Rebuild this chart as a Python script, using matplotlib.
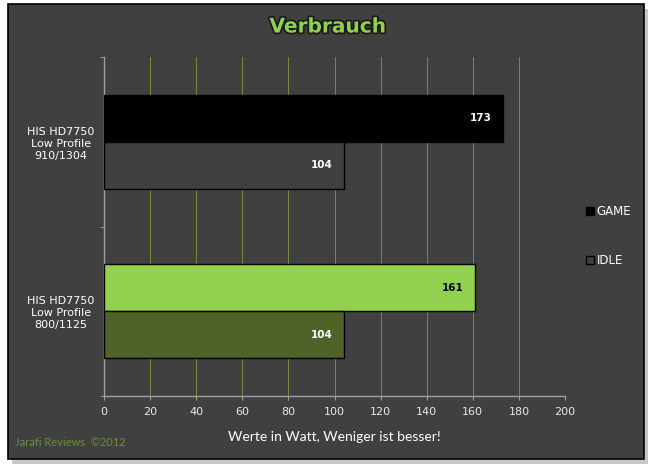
import numpy as np
import matplotlib.pyplot as plt
from matplotlib.patches import Rectangle
from matplotlib.lines import Line2D
import matplotlib.patheffects as pe

# Daten
karten = ['HIS HD7750\nLow Profile\n910/1304', 'HIS HD7750\nLow Profile\n800/1125']
game = [173, 161]
idle = [104, 104]
xticks = list(range(0, 201, 20))

bg = '#404040'
farben_game = ['#000000', '#92d050']
farben_idle = ['#404040', '#4f6228']
text_farbe = ['white', 'black']

fig = plt.figure(figsize=(6.48, 4.70), dpi=100)
fig.patch.set_facecolor('white')

# Hintergrund-Achse fuer Panel und Schatten
bgax = fig.add_axes([0, 0, 1, 1], zorder=-1)
bgax.set_xlim(0, 648)
bgax.set_ylim(470, 0)
bgax.axis('off')
bgax.add_patch(Rectangle((12, 9), 636, 455, facecolor='#c8c8c8', edgecolor='none'))
bgax.add_patch(Rectangle((8, 4), 636, 455, facecolor=bg, edgecolor='black', linewidth=1.2))

ax = fig.add_axes([104/648, 74/470, 461/648, 339/470])
ax.set_facecolor('none')

y = np.arange(len(karten))
h = 0.276
ax.barh(y - h/2, game, height=h, color=farben_game, edgecolor='black', linewidth=1, zorder=3)
ax.barh(y + h/2, idle, height=h, color=farben_idle, edgecolor='black', linewidth=1, zorder=3)

for i in range(len(karten)):
    ax.annotate(str(game[i]), (game[i], y[i] - h/2), xytext=(-8, 0), textcoords='offset points',
                ha='right', va='center', fontsize=7.5, fontweight='bold', color=text_farbe[i], zorder=4)
    ax.annotate(str(idle[i]), (idle[i], y[i] + h/2), xytext=(-8, 0), textcoords='offset points',
                ha='right', va='center', fontsize=7.5, fontweight='bold', color='white', zorder=4)

ax.set_xlim(0, 200)
ax.set_ylim(1.5, -0.5)
ax.set_xticks(xticks)
ax.set_xticklabels([str(v) for v in xticks], fontsize=8, color='#e8e8e8')
ax.set_yticks(y)
ax.set_yticklabels(karten, fontsize=8, color='white', linespacing=1.25, ha='center')
ax.set_yticks([-0.5, 0.5, 1.5], minor=True)
ax.tick_params(axis='y', which='major', length=0, pad=31)
ax.tick_params(axis='y', which='minor', length=3, color='#a0a0a0', direction='out')
ax.tick_params(axis='x', length=3, color='#a0a0a0', direction='out', pad=5)

ax.grid(axis='x', color='#6e8c3c', linewidth=0.75, zorder=0)
ax.set_axisbelow(True)
for s in ['top', 'right']:
    ax.spines[s].set_visible(False)
for s in ['left', 'bottom']:
    ax.spines[s].set_color('#a0a0a0')
    ax.spines[s].set_linewidth(1)

ax.set_xlabel('Werte in Watt, Weniger ist besser!', fontsize=10, color='white', family='Lato', labelpad=10)

fig.text(328/648, 1 - 27/470, 'Verbrauch', ha='center', va='center', fontsize=14.5, fontweight='bold',
         color='#8fd14f', path_effects=[pe.withStroke(linewidth=2.5, foreground='#1a1a1a')])
fig.text(15/648, 1 - 443/470, 'Jarafi Reviews  ©2012', ha='left', va='center', fontsize=8,
         color='#6b8e3a', family='Lato')

# Legende
handles = [Line2D([], [], marker='s', linestyle='none', markersize=6, markerfacecolor='black',
                  markeredgecolor='black'),
           Line2D([], [], marker='s', linestyle='none', markersize=6, markerfacecolor=bg,
                  markeredgecolor='black')]
leg = fig.legend(handles, ['GAME', 'IDLE'], loc='center left', bbox_to_anchor=(573/648, 1 - 236/470),
                 frameon=False, labelspacing=3.1, handletextpad=0.1, handlelength=1, fontsize=8.5)
for t in leg.get_texts():
    t.set_color('white')

fig.savefig('out.png', dpi=100, facecolor='white')
